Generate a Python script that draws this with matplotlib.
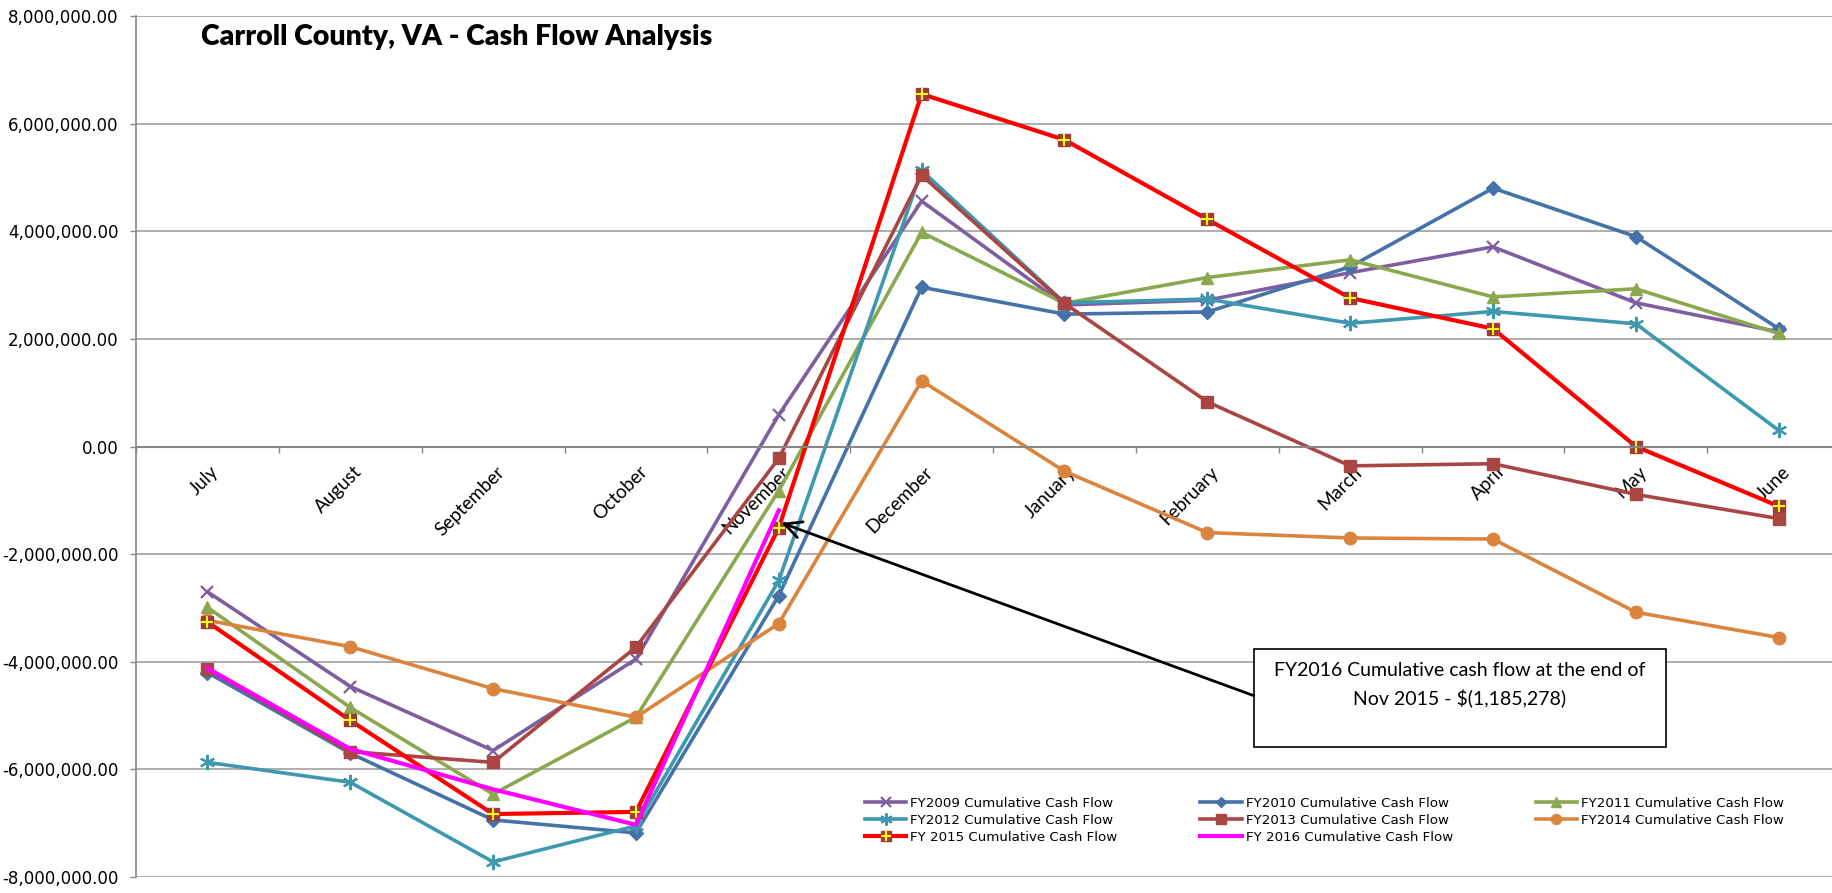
import matplotlib
matplotlib.use("Agg")
import matplotlib.pyplot as plt
from matplotlib.patches import Rectangle
from matplotlib.ticker import FuncFormatter, FixedLocator

months = ["July", "August", "September", "October", "November", "December",
          "January", "February", "March", "April", "May", "June"]

fy2009 = [-2.70e6, -4.46e6, -5.65e6, -3.95e6, 0.59e6, 4.56e6,
          2.63e6, 2.72e6, 3.23e6, 3.71e6, 2.67e6, 2.13e6]
fy2010 = [-4.20e6, -5.70e6, -6.94e6, -7.18e6, -2.77e6, 2.96e6,
          2.46e6, 2.50e6, 3.34e6, 4.80e6, 3.90e6, 2.19e6]
fy2011 = [-2.99e6, -4.85e6, -6.46e6, -5.03e6, -0.82e6, 3.98e6,
          2.66e6, 3.14e6, 3.47e6, 2.78e6, 2.93e6, 2.10e6]
fy2012 = [-5.87e6, -6.24e6, -7.72e6, -7.05e6, -2.49e6, 5.13e6,
          2.67e6, 2.74e6, 2.29e6, 2.51e6, 2.28e6, 0.30e6]
fy2013 = [-4.13e6, -5.67e6, -5.87e6, -3.73e6, -0.22e6, 5.04e6,
          2.66e6, 0.83e6, -0.36e6, -0.32e6, -0.89e6, -1.34e6]
fy2014 = [-3.23e6, -3.72e6, -4.50e6, -5.03e6, -3.29e6, 1.22e6,
          -0.46e6, -1.60e6, -1.70e6, -1.72e6, -3.08e6, -3.55e6]
fy2015 = [-3.26e6, -5.09e6, -6.83e6, -6.79e6, -1.51e6, 6.55e6,
          5.70e6, 4.22e6, 2.76e6, 2.19e6, 0.0, -1.11e6]
fy2016 = [-4.12e6, -5.62e6, -6.37e6, -7.03e6, -1.185278e6]

note = ["FY2016 Cumulative cash flow at the end of", r"Nov 2015 - \$(1,185,278)"]

fig = plt.figure(figsize=(18.33, 8.93), dpi=100, facecolor="w")
ax = fig.add_axes([136 / 1833, 16 / 893, 1 - 136 / 1833, (877 - 16) / 893])

lw = 2.6
x12 = list(range(12))
h09, = ax.plot(x12, fy2009, color="#7D5FA0", lw=lw, marker="x", ms=9, mew=1.6,
               label="FY2009 Cumulative Cash Flow")
h10, = ax.plot(x12, fy2010, color="#4672AA", lw=lw, marker="D", ms=7,
               label="FY2010 Cumulative Cash Flow")
h11, = ax.plot(x12, fy2011, color="#8BA84F", lw=lw, marker="^", ms=9,
               label="FY2011 Cumulative Cash Flow")
h12, = ax.plot(x12, fy2012, color="#3E98B0", lw=lw, marker=(6, 2, 0), ms=11, mew=1.6,
               label="FY2012 Cumulative Cash Flow")
h13, = ax.plot(x12, fy2013, color="#A94643", lw=lw, marker="s", ms=9,
               label="FY2013 Cumulative Cash Flow")
h14, = ax.plot(x12, fy2014, color="#DB843D", lw=lw, marker="o", ms=9,
               label="FY2014 Cumulative Cash Flow")
h15a, = ax.plot(x12, fy2015, color="#FF0000", lw=lw + 0.4, marker="s", ms=9,
                mfc="#9E3A3A", mec="#9E3A3A")
h15b, = ax.plot(x12, fy2015, ls="none", marker="+", ms=9, mew=1.5, color="#FFFF00")
h16, = ax.plot(list(range(len(fy2016))), fy2016, color="#FF00FF", lw=lw + 0.4,
               label="FY 2016 Cumulative Cash Flow")

ax.set_xlim(-0.5, 11.38)
ax.set_ylim(-8e6, 8e6)
ax.set_yticks([-8e6 + 2e6 * k for k in range(9)])
ax.yaxis.set_major_formatter(FuncFormatter(lambda v, p: f"{v:,.2f}"))
ax.tick_params(axis="y", length=4.5, width=1, color="#868686", pad=8, labelsize=12)
ax.grid(axis="y", color="#A0A0A0", lw=1.2)
ax.set_axisbelow(True)

for s in ["top", "right"]:
    ax.spines[s].set_visible(False)
ax.spines["left"].set_color("#868686")
ax.spines["left"].set_linewidth(1.2)
ax.spines["bottom"].set_position(("data", 0))
ax.spines["bottom"].set_color("#868686")
ax.spines["bottom"].set_linewidth(1.5)
ax.xaxis.set_major_locator(FixedLocator([i + 0.5 for i in range(-1, 11)]))
ax.xaxis.set_ticklabels([])
ax.tick_params(axis="x", length=4.5, width=1, color="#868686", direction="out")

for i, m in enumerate(months):
    ax.text(i + 0.06, -0.42e6, m, rotation=45, rotation_mode="anchor",
            ha="right", va="center", fontsize=13.5, family="Lato", zorder=1)

fig.text(201 / 1833, 1 - 37 / 893, "Carroll County, VA - Cash Flow Analysis",
         fontsize=20.5, fontweight="heavy", family="Lato", ha="left", va="center")

# callout box with arrow
ax.add_patch(Rectangle((7.325, -5.575e6), 10.21 - 7.325, 1.818e6,
                       facecolor="w", edgecolor="k", lw=1.2, zorder=5))
ax.text(8.766, -4.165e6, note[0], ha="center", va="center", fontsize=14,
        family="Lato", zorder=6)
ax.text(8.766, -4.666e6, note[1], ha="center", va="center", fontsize=14,
        family="Lato", zorder=6)
ax.annotate("", xy=(4.02, -1.42e6), xytext=(7.325, -4.63e6),
            arrowprops=dict(arrowstyle="->,head_length=0.6,head_width=0.3",
                            mutation_scale=20, color="k", lw=2,
                            shrinkA=0, shrinkB=0), zorder=6)

handles = [h09, h12, (h15a, h15b), h10, h13, h16, h11, h14]
labels = ["FY2009 Cumulative Cash Flow", "FY2012 Cumulative Cash Flow",
          "FY 2015 Cumulative Cash Flow", "FY2010 Cumulative Cash Flow",
          "FY2013 Cumulative Cash Flow", "FY 2016 Cumulative Cash Flow",
          "FY2011 Cumulative Cash Flow", "FY2014 Cumulative Cash Flow"]
fig.legend(handles, labels, ncol=3, loc="upper left",
           bbox_to_anchor=(865 / 1833, 1 - 797 / 893), frameon=False,
           fontsize=9.6, handlelength=3.1, handletextpad=0.3,
           columnspacing=6.2, labelspacing=0.3, borderpad=0,
           borderaxespad=0, markerscale=0.8)

fig.savefig("out.png", dpi=100, facecolor="w")
